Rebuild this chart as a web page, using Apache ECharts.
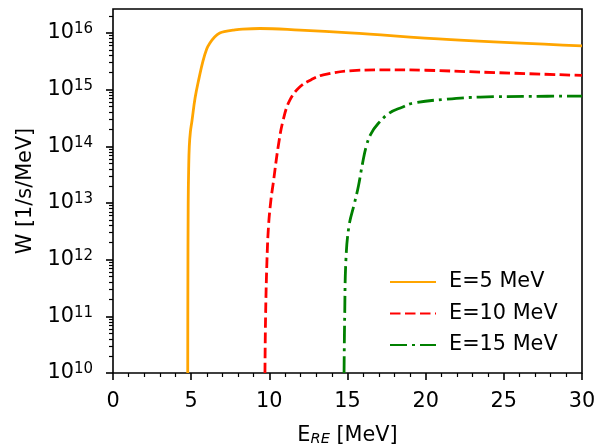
<!DOCTYPE html>
<html>
<head>
<meta charset="utf-8">
<script src="https://cdn.jsdelivr.net/npm/echarts@6/dist/echarts.min.js"></script>
<style>
html,body{margin:0;padding:0;background:#fff;}
#c{width:595px;height:448px;}
</style>
</head>
<body>
<div id="c"></div>
<script>
// Series names
const seriesNames = ['E=5 MeV', 'E=10 MeV', 'E=15 MeV'];

// E=5 MeV
const e5_x = [4.78, 4.79, 4.81, 4.84, 4.88, 4.95, 5.05, 5.25, 5.5, 5.75, 6.0, 6.19, 6.5, 6.83, 7.2, 7.67, 8.3, 9.4, 11.96, 15.16, 21.6, 30];
const e5_y = [1e10, 3.2e11, 1e13, 4e13, 1e14, 1.8e14, 2.8e14, 7.1e14, 1.58e15, 3.16e15, 5.25e15, 6.6e15, 8.5e15, 1.0e16, 1.07e16, 1.12e16, 1.17e16, 1.2e16, 1.12e16, 1.0e16, 7.6e15, 5.9e15];

// E=10 MeV
const e10_x = [9.72, 9.76, 9.85, 9.95, 10.1, 10.25, 10.57, 10.89, 11.32, 11.96, 12.7, 13.45, 15.59, 17.5, 20, 23.48, 30];
const e10_y = [1e10, 1e11, 1e12, 4e12, 1.12e13, 2.24e13, 1e14, 2.95e14, 6.6e14, 1.12e15, 1.51e15, 1.82e15, 2.19e15, 2.24e15, 2.2e15, 2.04e15, 1.78e15];

// E=15 MeV
const e15_x = [14.78, 14.82, 14.9, 15.1, 15.45, 15.7, 15.95, 16.2, 16.5, 16.95, 17.7, 18.5, 19.2, 21.35, 23.49, 26.7, 30];
const e15_y = [1e10, 1e11, 1e12, 4e12, 1e13, 2e13, 4.8e13, 1e14, 1.66e14, 2.5e14, 3.9e14, 4.9e14, 5.8e14, 6.8e14, 7.4e14, 7.6e14, 7.7e14];

// Axis ranges and ticks
const xMin = 0, xMax = 30, xStep = 5;
const yMinExp = 10, yMaxExp = 16.423;
const yMajorExps = [10, 11, 12, 13, 14, 15, 16];
const yMinorMultipliers = [2, 3, 4, 5, 6, 7, 8, 9];

const yMinorExps = [];
yMajorExps.forEach(n => yMinorMultipliers.forEach(k => {
  const v = n + Math.log10(k);
  if (v < yMaxExp) yMinorExps.push(v);
}));

const FONT = 'DejaVu Sans';
const FS = 20.8;

function zip(xs, ys) { return xs.map((x, i) => [x, ys[i]]); }

const chart = echarts.init(document.getElementById('c'), null, {renderer: 'canvas'});
chart.setOption({
  animation: false,
  backgroundColor: '#fff',
  textStyle: {fontFamily: FONT, color: '#000'},
  grid: {left: 113, right: 13, top: 9, bottom: 75, show: true, borderColor: '#000', borderWidth: 1.6,
    backgroundColor: 'transparent', containLabel: false, outerBoundsMode: 'none'},
  legend: {
    orient: 'vertical', left: 384, top: 266,
    itemWidth: 46, itemHeight: 14, itemGap: 9.5,
    itemStyle: {opacity: 0},
    textStyle: {fontFamily: FONT, fontSize: FS, color: '#000', lineHeight: 22, padding: [0, 0, 0, 8]},
    data: seriesNames
  },
  xAxis: [{
    type: 'value', min: xMin, max: xMax, interval: xStep,
    axisLine: {show: false},
    axisTick: {show: true, length: 7, lineStyle: {color: '#000', width: 1.6}},
    minorTick: {show: true, splitNumber: 5, length: 4, lineStyle: {color: '#000', width: 1.2}},
    axisLabel: {fontFamily: FONT, fontSize: FS, color: '#000', margin: 18},
    splitLine: {show: false},
    name: 'E{sub|RE} [MeV]', nameLocation: 'middle', nameGap: 52,
    nameTextStyle: {fontFamily: FONT, fontSize: FS, color: '#000', lineHeight: 22,
      rich: {sub: {fontFamily: FONT, fontSize: 14.6, fontStyle: 'italic', lineHeight: 12, verticalAlign: 'bottom', color: '#000'}}}
  }],
  yAxis: [{
    type: 'log', logBase: 10, min: Math.pow(10, yMinExp), max: Math.pow(10, yMaxExp),
    position: 'left',
    axisLine: {show: false}, axisTick: {show: false}, axisLabel: {show: false}, splitLine: {show: false}
  }, {
    type: 'value', min: yMinExp, max: yMaxExp, position: 'left',
    axisLine: {show: false},
    axisTick: {show: true, length: 7, customValues: yMajorExps, lineStyle: {color: '#000', width: 1.6}},
    axisLabel: {
      show: true, customValues: yMajorExps, margin: 20,
      formatter: v => '{b|10}{s|' + Math.round(v) + '}',
      rich: {
        b: {fontFamily: FONT, fontSize: FS, lineHeight: 22, color: '#000'},
        s: {fontFamily: FONT, fontSize: 15, lineHeight: 12, verticalAlign: 'top', color: '#000'}
      }
    },
    splitLine: {show: false},
    name: 'W [1/s/MeV]', nameLocation: 'middle', nameGap: 76,
    nameTextStyle: {fontFamily: FONT, fontSize: FS, color: '#000'}
  }, {
    type: 'value', min: yMinExp, max: yMaxExp, position: 'left',
    axisLine: {show: false},
    axisTick: {show: true, length: 4, customValues: yMinorExps, lineStyle: {color: '#000', width: 1.2}},
    axisLabel: {show: false},
    splitLine: {show: false}
  }],
  series: [{
    name: seriesNames[0], type: 'line', xAxisIndex: 0, yAxisIndex: 0,
    data: zip(e5_x, e5_y), showSymbol: false, symbol: 'circle', smooth: 0.4,
    lineStyle: {color: '#FFA500', width: 2.8, type: 'solid'}, itemStyle: {color: '#FFA500'}
  }, {
    name: seriesNames[1], type: 'line', xAxisIndex: 0, yAxisIndex: 0,
    data: zip(e10_x, e10_y), showSymbol: false, symbol: 'circle', smooth: 0.4,
    lineStyle: {color: '#FF0000', width: 2.8, type: [10.5, 4.5]}, itemStyle: {color: '#FF0000'}
  }, {
    name: seriesNames[2], type: 'line', xAxisIndex: 0, yAxisIndex: 0,
    data: zip(e15_x, e15_y), showSymbol: false, symbol: 'circle', smooth: 0.4,
    lineStyle: {color: '#008000', width: 2.8, type: [17, 5, 3, 5]}, itemStyle: {color: '#008000'}
  }]
});
</script>
</body>
</html>
